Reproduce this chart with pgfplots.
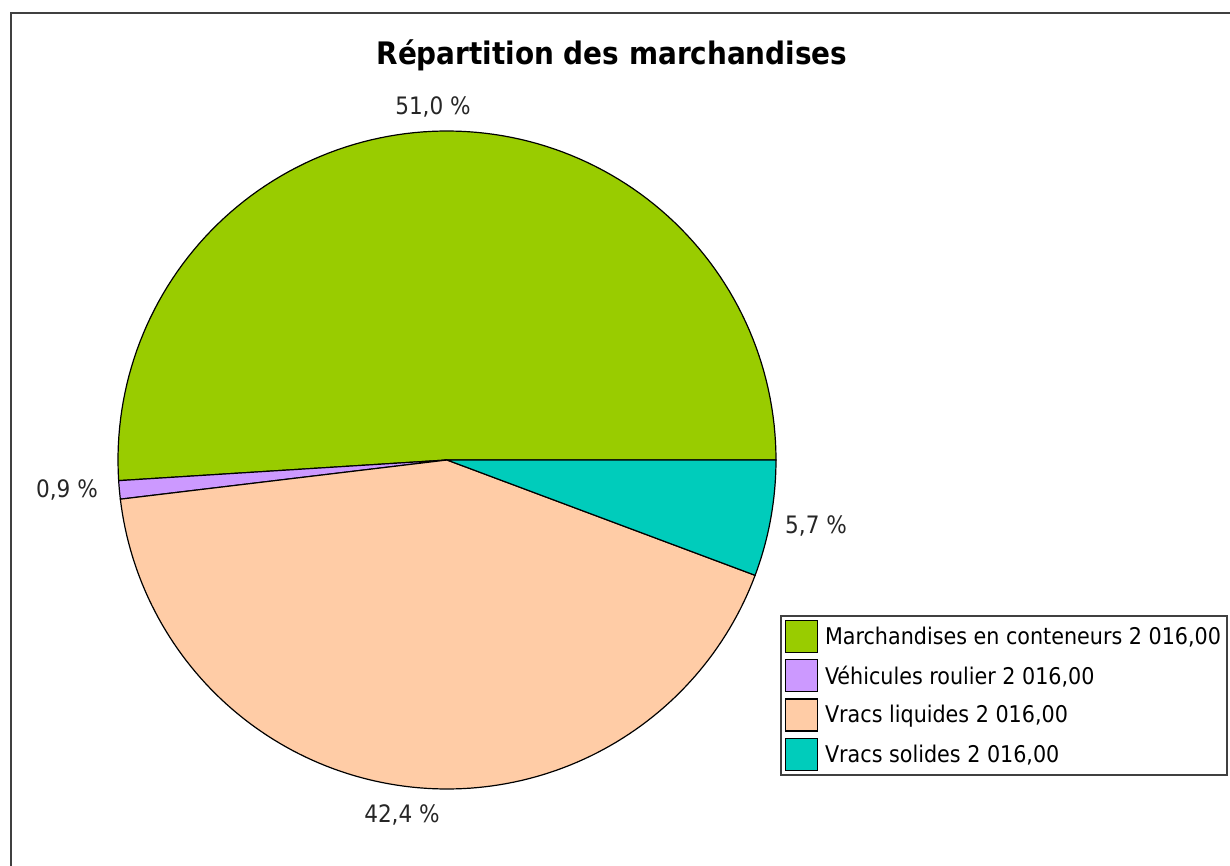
\documentclass[border=0pt]{standalone}
\usepackage{fontspec}
\setmainfont{DejaVu Sans Condensed}
\usepackage{pgfplots}
\pgfplotsset{compat=1.18}
\definecolor{cA}{HTML}{99CC00}
\definecolor{cB}{HTML}{CC99FF}
\definecolor{cC}{HTML}{FFCCA6}
\definecolor{cD}{HTML}{00CCBB}
\definecolor{frame}{HTML}{404040}
% shares (percent)
\def\pA{51.0}\def\pB{0.9}\def\pC{42.4}\def\pD{5.7}
\pgfmathsetmacro\aA{3.6*\pA}
\pgfmathsetmacro\aB{\aA+3.6*\pB}
\pgfmathsetmacro\aC{\aB+3.6*\pC}
\pgfmathsetmacro\aD{\aC+3.6*\pD}
\def\R{329}
\begin{document}
\begin{tikzpicture}[x=1pt,y=1pt]
\draw[line width=2pt, color=frame] (11,-5) -- (11,852) -- (1235,852);
\node[anchor=base, font=\bfseries\fontsize{31}{36}\selectfont] at (612,800) {Répartition des marchandises};
\begin{axis}[
  at={(107,65)}, anchor=south west,
  x=1pt, y=1pt,
  xmin=-340, xmax=340, ymin=-340, ymax=340,
  enlargelimits=false,
  hide axis, clip=false,
  legend image code/.code={\draw[#1, draw=black, line width=1.3pt] (0pt,-16pt) rectangle (32pt,16pt);},
  legend style={at={(axis cs:333,-155)}, anchor=north west, draw=frame, line width=1.5pt,
    font=\fontsize{23}{27}\selectfont, legend cell align=left, row sep=6pt,
    inner sep=4pt, /tikz/every odd column/.append style={column sep=5pt}},
]
\addplot[fill=cA, draw=black, line width=1.2pt, domain=0:\aA, samples=120, variable=\t]
  ({\R*cos(t)},{\R*sin(t)}) -- (axis cs:0,0) -- cycle;
\addlegendentry{Marchandises en conteneurs 2 016,00}
\addplot[fill=cB, draw=black, line width=1.2pt, domain=\aA:\aB, samples=6, variable=\t]
  ({\R*cos(t)},{\R*sin(t)}) -- (axis cs:0,0) -- cycle;
\addlegendentry{Véhicules roulier 2 016,00}
\addplot[fill=cC, draw=black, line width=1.2pt, domain=\aB:\aC, samples=120, variable=\t]
  ({\R*cos(t)},{\R*sin(t)}) -- (axis cs:0,0) -- cycle;
\addlegendentry{Vracs liquides 2 016,00}
\addplot[fill=cD, draw=black, line width=1.2pt, domain=\aC:\aD, samples=20, variable=\t]
  ({\R*cos(t)},{\R*sin(t)}) -- (axis cs:0,0) -- cycle;
\addlegendentry{Vracs solides 2 016,00}
\node[anchor=base, font=\fontsize{24}{28}\selectfont, text=black!85] at (axis cs:-14,345) {51,0 \%};
\node[anchor=base, font=\fontsize{24}{28}\selectfont, text=black!85] at (axis cs:-380,-38) {0,9 \%};
\node[anchor=base, font=\fontsize{24}{28}\selectfont, text=black!85] at (axis cs:369,-74) {5,7 \%};
\node[anchor=base, font=\fontsize{24}{28}\selectfont, text=black!85] at (axis cs:-45,-362) {42,4 \%};
\end{axis}
\pgfresetboundingbox
\path[use as bounding box] (0,0) rectangle (1230,865);
\end{tikzpicture}
\end{document}
